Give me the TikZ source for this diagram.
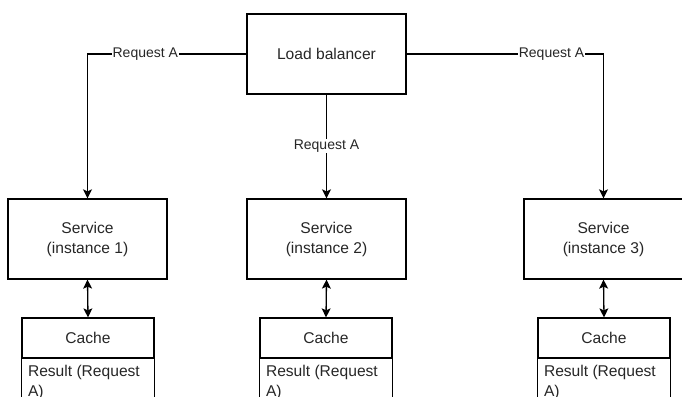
\documentclass[tikz,border=0pt]{standalone}
\usepackage{fontspec}
\setmainfont{Liberation Sans}
\usetikzlibrary{arrows.meta,calc}

\begin{document}
\begin{tikzpicture}[x=1pt,y=-1pt,
  line width=1.3pt,
  every node/.style={text=black!85},
  boxtxt/.style={font=\fontsize{15.6}{20}\selectfont},
  block/.style={draw=black, boxtxt, align=center, inner sep=0pt,
                minimum width=159pt, minimum height=80pt},
  cachehead/.style={draw=black, boxtxt, inner sep=0pt,
                minimum width=132pt, minimum height=40pt},
  cachebody/.style={boxtxt, align=left, anchor=north west, inner sep=0pt},
  flow/.style={draw=black, -{Stealth[length=9pt,width=9pt,inset=2pt]}},
  both/.style={draw=black, {Stealth[length=9pt,width=9pt,inset=2pt]}-{Stealth[length=9pt,width=9pt,inset=2pt]}},
  elabel/.style={fill=white, inner sep=1pt, font=\fontsize{14}{16}\selectfont}
]
\useasboundingbox (0,0) rectangle (682,396);
\clip (0,0) rectangle (682,396);

% balancer and service instances
\node[block] (lb) at (326.5,54) {Load balancer};
\node[block] (s1) at (87.5,239)  {Service\\(instance 1)};
\node[block] (s2) at (326.5,239) {Service\\(instance 2)};
\node[block] (s3) at (603.5,239) {Service\\(instance 3)};

% per-instance caches (header + open body)
\foreach \n/\x in {1/88, 2/326, 3/604} {
  \node[cachehead] (c\n) at (\x,338) {Cache};
  \draw (c\n.south west) -- ++(0,80);
  \draw (c\n.south east) -- ++(0,80);
  \node[cachebody] (r\n) at ($(c\n.south west)+(6,6)$) {Result (Request\\A)};
  \draw[both] (s\n.south) -- (c\n.north);
}

% request routing
\draw[flow] (lb.west) -| (s1.north) node[elabel, pos=0.318] {Request A};
\draw[flow] (lb.south) -- (s2.north) node[elabel, pos=0.495] {Request A};
\draw[flow] (lb.east) -| (s3.north) node[elabel, pos=0.368] {Request A};
\end{tikzpicture}
\end{document}
